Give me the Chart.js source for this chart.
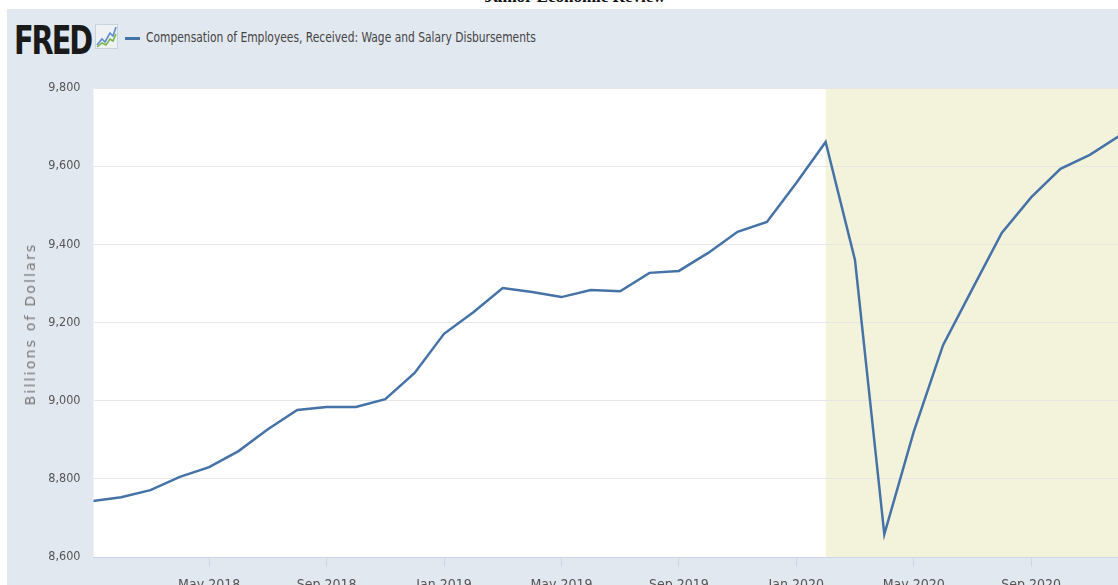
<!DOCTYPE html>
<html>
<head>
<meta charset="utf-8">
<script src="https://cdn.jsdelivr.net/npm/chart.js@4"></script>
<style>
    html, body { margin: 0; padding: 0; background: #fff; }
    body { width: 1118px; height: 585px; position: relative; overflow: hidden; }
    #panel { position: absolute; left: 7px; top: 9px; right: 0; bottom: 0; background: #e1e8f0; }
    #topTitle { position: absolute; left: 0; width: 1150px; top: -13px; text-align: center;
        font: bold 17px "Liberation Serif", serif; color: #111; }
    #logo { position: absolute; left: 14px; top: 18px; font: bold 39px "DejaVu Sans Condensed", sans-serif;
        letter-spacing: -2.5px; color: #1a1a1a; transform: scaleX(0.82); transform-origin: 0 0; }
    #icon { position: absolute; left: 95px; top: 24px; }
    #legendLine { position: absolute; left: 125px; top: 37px; width: 15px; height: 3px; background: #4572a7; }
    #legendText { position: absolute; left: 146px; top: 29px; font: 14px "DejaVu Sans Condensed", sans-serif;
        color: #444; white-space: nowrap; transform: scaleX(0.85); transform-origin: 0 0; }
    #yTitle { position: absolute; left: 30px; top: 324px; font: 14px "DejaVu Sans", sans-serif; color: #777;
        letter-spacing: 2.2px; white-space: nowrap; transform: translate(-50%, -50%) rotate(-90deg); }
    #chart { position: absolute; left: 0; top: 0; }
</style>
</head>
<body>
<div id="panel"></div>
<div id="topTitle">Junior Economic Review</div>
<div id="logo">FRED</div>
<svg id="icon" width="23" height="25" viewBox="0 0 23 25">
    <rect x="0.5" y="0.5" width="22" height="24" fill="#eef2f5" stroke="#c9d3dc"/>
    <polyline points="2,21 7,15 10,18 15,9 18,12 21,3" fill="none" stroke="#5b8ccf" stroke-width="1.6"/>
    <polyline points="2,23 7,19 11,21 15,15 18,17 21,10" fill="none" stroke="#7bb346" stroke-width="1.6"/>
</svg>
<div id="legendLine"></div>
<div id="legendText">Compensation of Employees, Received: Wage and Salary Disbursements</div>
<canvas id="chart" width="1118" height="585"></canvas>
<div id="yTitle">Billions of Dollars</div>
<script>
// Meses desde ene 2018 hasta dic 2020 (miles de millones de dolares)
const meses = [
    'Jan 2018', 'Feb 2018', 'Mar 2018', 'Apr 2018', 'May 2018', 'Jun 2018',
    'Jul 2018', 'Aug 2018', 'Sep 2018', 'Oct 2018', 'Nov 2018', 'Dec 2018',
    'Jan 2019', 'Feb 2019', 'Mar 2019', 'Apr 2019', 'May 2019', 'Jun 2019',
    'Jul 2019', 'Aug 2019', 'Sep 2019', 'Oct 2019', 'Nov 2019', 'Dec 2019',
    'Jan 2020', 'Feb 2020', 'Mar 2020', 'Apr 2020', 'May 2020', 'Jun 2020',
    'Jul 2020', 'Aug 2020', 'Sep 2020', 'Oct 2020', 'Nov 2020', 'Dec 2020'
];
const salarios = [
    8743, 8753, 8771, 8805, 8830, 8871,
    8927, 8976, 8984, 8984, 9004, 9071,
    9171, 9226, 9288, 9278, 9265, 9283,
    9280, 9327, 9332, 9378, 9432, 9457,
    9557, 9662, 9360, 8658, 8920, 9142,
    9286, 9429, 9520, 9593, 9629, 9677
];
const etiquetasX = ['May 2018', 'Sep 2018', 'Jan 2019', 'May 2019', 'Sep 2019', 'Jan 2020', 'May 2020', 'Sep 2020'];
const ticksY = [8600, 8800, 9000, 9200, 9400, 9600, 9800];
const inicioRecesion = 'Feb 2020';

const puntos = salarios.map((v, i) => ({ x: i, y: v }));
const posEtiquetas = etiquetasX.map(e => meses.indexOf(e));
const fuente = '"DejaVu Sans Condensed", sans-serif';

// Fondo blanco del area y sombreado de recesion
const fondoPlugin = {
    id: 'fondo',
    beforeDraw(chart) {
        const { ctx, chartArea: a, scales } = chart;
        ctx.save();
        ctx.fillStyle = '#ffffff';
        ctx.fillRect(a.left, a.top, a.right - a.left, a.bottom - a.top);
        const x0 = scales.x.getPixelForValue(meses.indexOf(inicioRecesion));
        ctx.fillStyle = '#f3f3db';
        ctx.fillRect(x0, a.top, a.right - x0, a.bottom - a.top);
        ctx.restore();
    }
};

new Chart(document.getElementById('chart'), {
    type: 'line',
    data: {
        datasets: [{
            label: 'Compensation of Employees, Received: Wage and Salary Disbursements',
            data: puntos,
            borderColor: '#4572a7',
            borderWidth: 2.5,
            pointRadius: 0,
            tension: 0
        }]
    },
    options: {
        responsive: false,
        animation: false,
        layout: { padding: { top: 88, left: 0, right: 0, bottom: 0 } },
        plugins: {
            legend: { display: false },
            tooltip: { enabled: false }
        },
        scales: {
            x: {
                type: 'linear',
                min: 0.06,
                max: 34.96,
                afterBuildTicks(axis) {
                    axis.ticks = posEtiquetas.map(v => ({ value: v }));
                },
                afterFit(axis) { axis.height = 28; },
                ticks: {
                    callback: (v) => meses[v],
                    color: '#555',
                    font: { family: fuente, size: 14 },
                    padding: 10,
                    maxRotation: 0,
                    autoSkip: false
                },
                grid: { drawOnChartArea: false, drawTicks: true, tickLength: 10, tickColor: '#ccd6eb' },
                border: { display: true, color: '#ccd6eb', width: 1 }
            },
            y: {
                min: 8600,
                max: 9800,
                afterBuildTicks(axis) {
                    axis.ticks = ticksY.map(v => ({ value: v }));
                },
                afterFit(axis) { axis.width = 93.5; },
                ticks: {
                    callback: (v) => v.toLocaleString('en-US'),
                    color: '#555',
                    font: { family: fuente, size: 12.5 },
                    padding: 13
                },
                grid: { color: '#e6e6e6', drawTicks: false },
                border: { display: false }
            }
        }
    },
    plugins: [fondoPlugin]
});
</script>
</body>
</html>
